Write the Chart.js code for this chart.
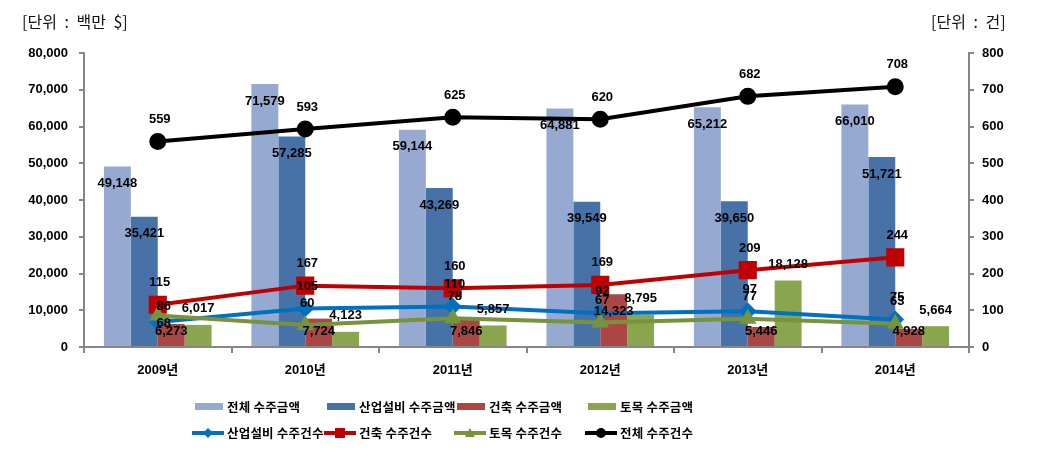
<!DOCTYPE html>
<html>
<head>
<meta charset="utf-8">
<script src="https://cdn.jsdelivr.net/npm/chart.js@4.4.1/dist/chart.umd.min.js"></script>
<style>
  html, body { margin: 0; padding: 0; background: #fff; }
  #wrap { position: relative; width: 1053px; height: 458px; overflow: hidden; }
  canvas { display: block; }
  .unit { position: absolute; top: 11px; font: 16px "Noto Sans CJK KR", sans-serif; color: #111; white-space: nowrap; line-height: 20px; word-spacing: 4px; }
  .lg { position: absolute; font: bold 12.5px "Noto Sans CJK KR", sans-serif; color: #000; white-space: nowrap; line-height: 16px; letter-spacing: 0.2px; }
  .box { position: absolute; height: 7px; width: 28px; }
  .ln { position: absolute; height: 4px; width: 32px; }
  .mk { position: absolute; }
</style>
</head>
<body>
<div id="wrap">
  <canvas id="c" width="1053" height="458"></canvas>
  <div class="unit" style="left:22px;">[단위 : 백만 $]</div>
  <div class="unit" style="left:931px;">[단위 : 건]</div>
  <div id="legend"></div>
</div>
<script>
// ---- data ----
const categories = ['2009년', '2010년', '2011년', '2012년', '2013년', '2014년'];
const totalAmount = [49148, 71579, 59144, 64881, 65212, 66010];
const plantAmount = [35421, 57285, 43269, 39549, 39650, 51721];
const buildingAmount = [6273, 7724, 7846, 14323, 5446, 4928];
const civilAmount = [6017, 4123, 5857, 8795, 18128, 5664];
const plantCount = [68, 105, 110, 92, 97, 75];
const buildingCount = [115, 167, 160, 169, 209, 244];
const civilCount = [86, 60, 78, 67, 77, 63];
const totalCount = [559, 593, 625, 620, 682, 708];
const amountTicks = [0, 10000, 20000, 30000, 40000, 50000, 60000, 70000, 80000];
const countTicks = [0, 100, 200, 300, 400, 500, 600, 700, 800];

const C = {
  total: '#95A9D1', plant: '#4672A8', building: '#AA4643', civil: '#89A54E',
  lPlant: '#0070C0', lBuilding: '#C00000', lCivil: '#77933C', lTotal: '#000000',
  axis: '#868686'
};

const fmt = v => v.toLocaleString('en-US');

const datasets = [
  { type: 'bar', label: '전체 수주금액', data: totalAmount, backgroundColor: C.total, yAxisID: 'y', order: 2, place: 'inside' },
  { type: 'bar', label: '산업설비 수주금액', data: plantAmount, backgroundColor: C.plant, yAxisID: 'y', order: 2, place: 'inside' },
  { type: 'bar', label: '건축 수주금액', data: buildingAmount, backgroundColor: C.building, yAxisID: 'y', order: 2, place: 'insideClamp' },
  { type: 'bar', label: '토목 수주금액', data: civilAmount, backgroundColor: C.civil, yAxisID: 'y', order: 2, place: 'above' },
  { type: 'line', label: '토목 수주건수', data: civilCount, borderColor: C.lCivil, backgroundColor: C.lCivil, borderWidth: 4, pointStyle: 'triangle', pointRadius: 6, yAxisID: 'y1', order: 1, place: 'point', key: 'civil' },
  { type: 'line', label: '산업설비 수주건수', data: plantCount, borderColor: C.lPlant, backgroundColor: C.lPlant, borderWidth: 4, pointStyle: 'rectRot', pointRadius: 6, yAxisID: 'y1', order: 1, place: 'point', key: 'plant' },
  { type: 'line', label: '건축 수주건수', data: buildingCount, borderColor: C.lBuilding, backgroundColor: C.lBuilding, borderWidth: 4, pointStyle: 'rect', pointRadius: 10, yAxisID: 'y1', order: 1, place: 'point', key: 'building' },
  { type: 'line', label: '전체 수주건수', data: totalCount, borderColor: C.lTotal, backgroundColor: C.lTotal, borderWidth: 4, pointStyle: 'circle', pointRadius: 6.5, yAxisID: 'y1', order: 0, place: 'point', key: 'total' }
];

// per-point label nudges (first year labels were moved in the original)
const labelNudge = { 'civil-0': [6, 13], 'plant-0': [6, 23] };

const valueLabels = {
  id: 'valueLabels',
  afterDatasetsDraw(chart) {
    const ctx = chart.ctx;
    ctx.save();
    ctx.font = 'bold 13px "Liberation Sans", Arial, sans-serif';
    ctx.fillStyle = '#000';
    ctx.textAlign = 'center';
    ctx.textBaseline = 'middle';
    const base = chart.scales.y.getPixelForValue(0);
    chart.data.datasets.forEach((ds, i) => {
      const meta = chart.getDatasetMeta(i);
      meta.data.forEach((el, j) => {
        const v = ds.data[j];
        let x = el.x, y = el.y;
        if (ds.place === 'inside') y = el.y + 17;
        else if (ds.place === 'insideClamp') y = Math.min(el.y + 17, base - 16);
        else if (ds.place === 'above') y = el.y - 16;
        else {
          x = el.x + 2; y = el.y - 22;
          const n = labelNudge[ds.key + '-' + j];
          if (n) { x = el.x + n[0]; y = el.y - 22 + n[1]; }
        }
        ctx.fillText(fmt(v), x, y);
      });
    });
    ctx.restore();
  }
};

const axisGrid = { display: true, drawOnChartArea: false, drawTicks: true, tickLength: 5, color: C.axis, tickColor: C.axis, tickWidth: 2, lineWidth: 2 };
const tickFont = { family: '"Liberation Sans", Arial, "Noto Sans CJK KR", sans-serif', size: 13, weight: 'bold' };

new Chart(document.getElementById('c'), {
  data: { labels: categories, datasets },
  options: {
    responsive: false,
    animation: false,
    devicePixelRatio: 1,
    layout: { padding: { top: 53, bottom: 68, left: 0, right: 0 } },
    datasets: { bar: { barPercentage: 1, categoryPercentage: 0.73 } },
    plugins: { legend: { display: false }, tooltip: { enabled: false } },
    scales: {
      x: {
        offset: true,
        grid: Object.assign({}, axisGrid, { offset: true, tickLength: 6 }),
        border: { display: true, color: C.axis, width: 2 },
        ticks: { color: '#000', font: Object.assign({}, tickFont, { size: 13 }), padding: 10, maxRotation: 0 },
        afterFit(s) { s.height = 43; }
      },
      y: {
        position: 'left',
        min: 0, max: amountTicks[amountTicks.length - 1],
        afterBuildTicks(s) { s.ticks = amountTicks.map(v => ({ value: v })); },
        grid: axisGrid,
        border: { display: true, color: C.axis, width: 2 },
        ticks: { color: '#000', font: tickFont, padding: 11, callback: v => fmt(v) },
        afterFit(s) { s.width = 84; }
      },
      y1: {
        position: 'right',
        min: 0, max: countTicks[countTicks.length - 1],
        afterBuildTicks(s) { s.ticks = countTicks.map(v => ({ value: v })); },
        grid: axisGrid,
        border: { display: true, color: C.axis, width: 2 },
        ticks: { color: '#000', font: tickFont, padding: 8, callback: v => fmt(v) },
        afterFit(s) { s.width = 84; }
      }
    }
  },
  plugins: [valueLabels]
});

// ---- HTML legend ----
const legend = document.getElementById('legend');
const cols = [227, 359, 489, 620];
const barItems = [0, 1, 2, 3];
const lineItems = [5, 6, 4, 7];
function marker(style, color) {
  const s = 14;
  let shape = '';
  if (style === 'rectRot') shape = `<polygon points="7,2 12,7 7,12 2,7" fill="${color}"/>`;
  else if (style === 'rect') shape = `<rect x="2" y="2" width="10" height="10" fill="${color}"/>`;
  else if (style === 'triangle') shape = `<polygon points="7,2 12,11 2,11" fill="${color}"/>`;
  else shape = `<circle cx="7" cy="7" r="5" fill="${color}"/>`;
  return `<svg width="${s}" height="${s}" viewBox="0 0 14 14">${shape}</svg>`;
}
barItems.forEach((di, k) => {
  const ds = datasets[di];
  const x = cols[k];
  legend.insertAdjacentHTML('beforeend',
    `<div class="box" style="left:${x - 32}px;top:403px;background:${ds.backgroundColor}"></div>` +
    `<div class="lg" style="left:${x}px;top:399px">${ds.label}</div>`);
});
lineItems.forEach((di, k) => {
  const ds = datasets[di];
  const x = cols[k];
  legend.insertAdjacentHTML('beforeend',
    `<div class="ln" style="left:${x - 35}px;top:431px;background:${ds.borderColor}"></div>` +
    `<div class="mk" style="left:${x - 26}px;top:426px">${marker(ds.pointStyle, ds.borderColor)}</div>` +
    `<div class="lg" style="left:${x}px;top:425px">${ds.label}</div>`);
});
</script>
</body>
</html>
